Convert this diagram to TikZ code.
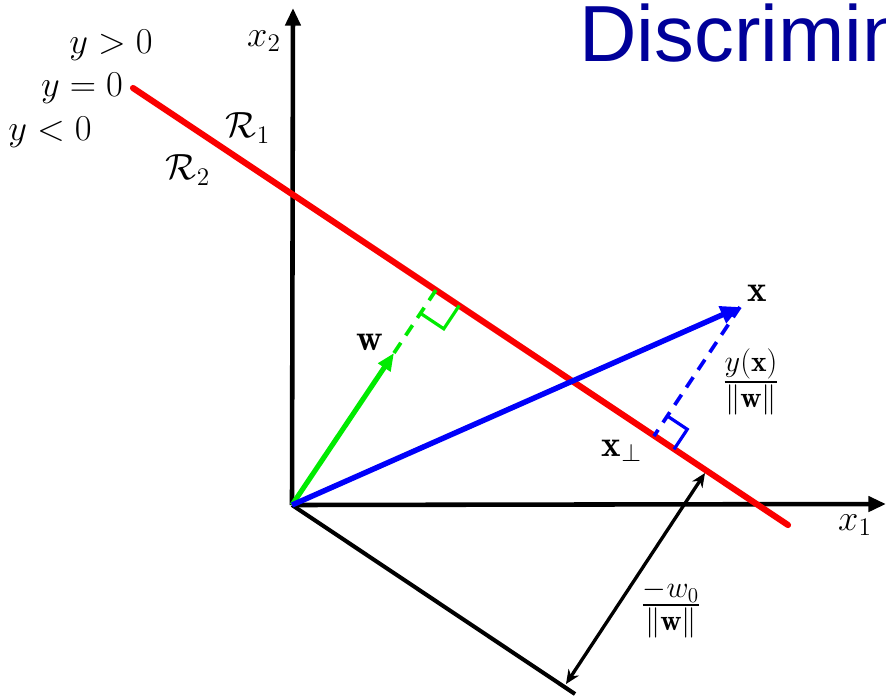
\documentclass[tikz,border=0pt]{standalone}
\usepackage{amsmath}
\usepackage{fontspec}
\newfontfamily\titlefont{Liberation Sans}
\usetikzlibrary{arrows.meta}
\definecolor{titleblue}{RGB}{0,0,153}
\definecolor{vgreen}{RGB}{0,235,0}
\definecolor{vred}{RGB}{250,0,0}
\definecolor{vblue}{RGB}{0,0,250}
\begin{document}
\begin{tikzpicture}[x=0.02cm,y=-0.02cm,
  lbl/.style={font=\fontsize{21}{25}\selectfont, inner sep=0pt},
  frac/.style={font=\fontsize{24}{28}\selectfont, inner sep=0pt},
  axisline/.style={line width=2.6pt, -{Triangle[length=10pt,width=8.5pt]}},
  redline/.style={vred, line width=3.5pt, line cap=round},
  bluevec/.style={vblue, line width=3.1pt, -{Triangle[length=11pt,width=10pt]}},
  greenvec/.style={vgreen, line width=2.9pt, -{Triangle[length=10pt,width=8pt]}},
  dashedperp/.style={line width=2.1pt, dash pattern=on 7pt off 5pt},
  rightmark/.style={line width=1.8pt},
  blackline/.style={black, line width=2.3pt},
  dimarrow/.style={black, line width=1.9pt, {Stealth[length=8pt,width=7pt]}-{Stealth[length=8pt,width=7pt]}}]
\clip (0,0) rectangle (886,697);
\fill[white] (0,0) rectangle (886,697);
% key points
\coordinate (O) at (292,505);
\coordinate (X2) at (293,8);
\coordinate (X1) at (886,504);
\coordinate (RA) at (133,88);
\coordinate (RB) at (788,525);
\coordinate (F) at (436,290);
\coordinate (G) at (394,353);
\coordinate (X) at (740,307);
\coordinate (XF) at (654,436);
\coordinate (L) at (575,694);
\coordinate (B1) at (566,684);
\coordinate (B2) at (705,473);
% title
\node[anchor=base west, inner sep=0pt, text=titleblue, font=\titlefont\fontsize{45.3}{50}\selectfont] (title) at (579,61) {Discrimin};
% axes
\draw[axisline] (O) -- (X2);
\draw[axisline] (O) -- (X1);
% lower black line and distance arrow
\draw[blackline] (O) -- (L);
\draw[dimarrow] (B1) -- (B2);
% decision boundary
\draw[redline] (RA) -- (RB);
% green w
\draw[greenvec] (O) -- (G);
\draw[vgreen, dashedperp] (G) -- (F);
\draw[vgreen, rightmark] (420.5,313.3) -- (443.8,328.8) -- (459.3,305.5);
% blue x
\draw[bluevec] (O) -- (X);
\draw[vblue, dashedperp] (X) -- (XF);
\draw[vblue, rightmark] (667.3,416) -- (687.3,429.3) -- (674,449.3);
% labels
\node[lbl] (ygt) at (111,45) {$y>0$};
\node[lbl] (yeq) at (82,88) {$y=0$};
\node[lbl] (ylt) at (50,132) {$y<0$};
\node[lbl] (r1) at (248,128) {$\mathcal{R}_1$};
\node[lbl] (r2) at (188,170) {$\mathcal{R}_2$};
\node[lbl] (x2l) at (264,41) {$x_2$};
\node[lbl] (x1l) at (855,525) {$x_1$};
\node[lbl] (wl) at (370,342) {$\mathbf{w}$};
\node[lbl] (xl) at (757,293) {$\mathbf{x}$};
\node[lbl] (xperp) at (622,451) {$\mathbf{x}_\perp$};
\node[frac] (yxw) at (751,382) {$\frac{y(\mathbf{x})}{\|\mathbf{w}\|}$};
\node[frac] (w0w) at (671,609) {$\frac{-w_0}{\|\mathbf{w}\|}$};
\end{tikzpicture}
\end{document}
